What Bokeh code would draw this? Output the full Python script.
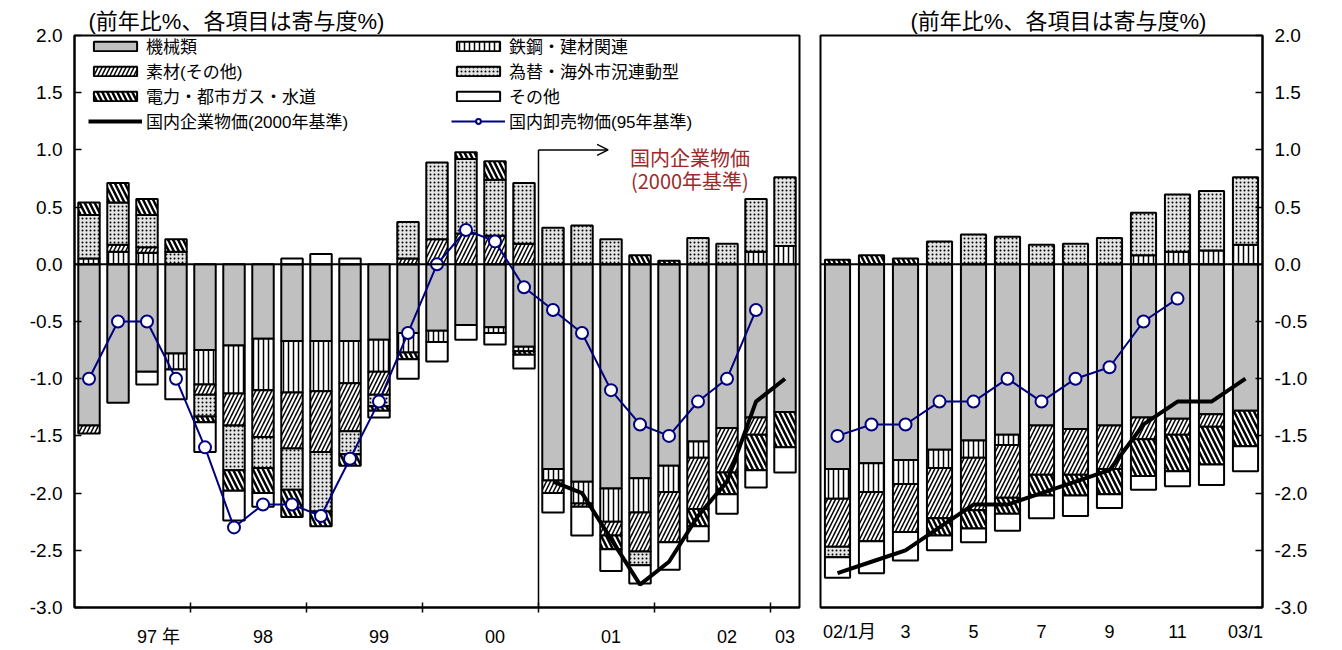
import math
from bokeh.plotting import figure
from bokeh.layouts import row
from bokeh.models import (ColumnDataSource, FixedTicker, Legend, LegendItem, Label,
                          Span, Arrow, OpenHead, PrintfTickFormatter)
from bokeh.embed import file_html
from bokeh.resources import INLINE

NAN = float("nan")

categories = ["機械類", "鉄鋼・建材関連", "素材(その他)", "為替・海外市況連動型",
              "電力・都市ガス・水道", "その他"]
line_cgpi = "国内企業物価(2000年基準)"
line_wpi = "国内卸売物価(95年基準)"

# ---- quarterly (97/1Q .. 03/1Q) ----
q_labels = ["97 年", "98", "99", "00", "01", "02", "03"]
q_label_idx = [2, 6, 10, 14, 18, 22, 24]
q_machinery = [-1.41, -1.21, -0.94, -0.78, -0.75, -0.71, -0.65, -0.67, -0.67, -0.67, -0.66, -0.60, -0.58,
               -0.53, -0.55, -0.72, -1.79, -1.90, -1.96, -1.87, -1.76, -1.55, -1.43, -1.34, -1.29]
q_steel = [0.05, 0.11, 0.10, -0.14, -0.30, -0.42, -0.45, -0.45, -0.44, -0.37, -0.28, -0.17, -0.10,
           0.0, -0.05, -0.04, -0.10, -0.19, -0.29, -0.30, -0.23, -0.14, 0.0, 0.11, 0.16]
q_material = [-0.07, 0.06, 0.05, 0.0, -0.09, -0.28, -0.41, -0.49, -0.53, -0.42, -0.20, 0.05, 0.22,
              0.27, 0.25, 0.18, -0.11, -0.03, -0.12, -0.34, -0.44, -0.45, -0.39, -0.15, 0.0]
q_fx = [0.38, 0.37, 0.28, 0.11, -0.19, -0.39, -0.27, -0.36, -0.52, -0.20, -0.10, 0.32, 0.67,
        0.65, 0.49, 0.53, 0.32, 0.34, 0.22, -0.12, 0.0, 0.23, 0.18, 0.46, 0.60]
q_utility = [0.11, 0.17, 0.14, 0.11, -0.05, -0.18, -0.22, -0.24, -0.13, -0.10, -0.04, -0.06, 0.0,
             0.06, 0.16, -0.03, 0.0, 0.0, -0.12, 0.08, 0.03, -0.15, -0.19, -0.31, -0.31]
q_other = [0.0, 0.0, -0.11, -0.26, -0.26, -0.26, -0.12, 0.05, 0.09, 0.05, -0.06, -0.17, -0.17,
           -0.13, -0.10, -0.12, -0.17, -0.25, -0.19, -0.16, -0.24, -0.13, -0.17, -0.15, -0.22]
q_wpi = [-1.0, -0.5, -0.5, -1.0, -1.6, -2.3, -2.1, -2.1, -2.2, -1.7, -1.2, -0.6, 0.0, 0.3, 0.2, -0.2,
         -0.4, -0.6, -1.1, -1.4, -1.5, -1.2, -1.0, -0.4, NAN]
q_cgpi = [NAN] * 16 + [-1.9, -2.0, -2.4, -2.8, -2.6, -2.2, -1.9, -1.2, -1.0]

# ---- monthly (02/1 .. 03/1) ----
m_labels = ["02/1月", "3", "5", "7", "9", "11", "03/1"]
m_label_idx = [0, 2, 4, 6, 8, 10, 12]
m_machinery = [-1.79, -1.74, -1.71, -1.62, -1.54, -1.49, -1.41, -1.44, -1.41, -1.34, -1.35, -1.31, -1.28]
m_steel = [-0.26, -0.25, -0.21, -0.16, -0.15, -0.09, 0.0, 0.0, 0.0, 0.08, 0.11, 0.12, 0.17]
m_material = [-0.42, -0.43, -0.42, -0.44, -0.46, -0.46, -0.43, -0.40, -0.38, -0.19, -0.14, -0.11, 0.0]
m_fx = [-0.09, 0.0, 0.0, 0.20, 0.26, 0.24, 0.17, 0.18, 0.23, 0.37, 0.50, 0.52, 0.59]
m_utility = [0.04, 0.08, 0.05, -0.15, -0.16, -0.14, -0.18, -0.18, -0.22, -0.32, -0.32, -0.33, -0.31]
m_other = [-0.18, -0.28, -0.25, -0.13, -0.12, -0.15, -0.20, -0.18, -0.12, -0.12, -0.13, -0.18, -0.22]
m_wpi = [-1.5, -1.4, -1.4, -1.2, -1.2, -1.0, -1.2, -1.0, -0.9, -0.5, -0.3, NAN, NAN]
m_cgpi = [-2.7, -2.6, -2.5, -2.3, -2.1, -2.1, -2.0, -1.9, -1.8, -1.4, -1.2, -1.2, -1.0]

y_ticks = [-3.0, -2.5, -2.0, -1.5, -1.0, -0.5, 0.0, 0.5, 1.0, 1.5, 2.0]
title_text = "(前年比%、各項目は寄与度%)"

STYLE = {
    "機械類": dict(fill_color="#C0C0C0"),
    "鉄鋼・建材関連": dict(fill_color="white", hatch_pattern="|", hatch_color="black",
                      hatch_scale=5, hatch_weight=1.5),
    "素材(その他)": dict(fill_color="white", hatch_pattern="/", hatch_color="black",
                      hatch_scale=8, hatch_weight=1.5),
    "為替・海外市況連動型": dict(fill_color="#E4E4E4", hatch_pattern=".", hatch_color="black",
                         hatch_scale=4, hatch_weight=2),
    "電力・都市ガス・水道": dict(fill_color="white", hatch_pattern="\\", hatch_color="black",
                         hatch_scale=10, hatch_weight=2.5),
    "その他": dict(fill_color="white"),
}

NUM_FONT = "Liberation Sans, Noto Sans CJK JP"
JP_FONT = "Noto Sans CJK JP"
FRAME_H = 572
NAVY = "#000080"


def draw_bars(p, series, bar_width):
    n = len(series[0])
    xs = list(range(n))
    pos = [0.0] * n
    neg = [0.0] * n
    rends = {}
    for cat, vals in zip(categories, series):
        x_, b_, t_ = [], [], []
        for i, v in enumerate(vals):
            if v == 0:
                continue
            if v > 0:
                b0 = pos[i]; pos[i] += v; t0 = pos[i]
            else:
                b0 = neg[i]; neg[i] += v; t0 = neg[i]
            x_.append(xs[i]); b_.append(b0); t_.append(t0)
        src = ColumnDataSource(dict(x=x_, bottom=b_, top=t_))
        rends[cat] = p.vbar(x="x", bottom="bottom", top="top", width=bar_width, source=src,
                            line_color="black", line_width=2, **STYLE[cat])
    return rends


def draw_lines(p, wpi, cgpi):
    xs = list(range(len(wpi)))
    rc = p.line(xs, cgpi, line_color="black", line_width=4)
    rl = p.line(xs, wpi, line_color=NAVY, line_width=2)
    rs = p.scatter(xs, wpi, size=12, marker="circle", fill_color="white",
                   line_color=NAVY, line_width=2)
    return rc, rl, rs


def base_fig(n, frame_w, left, right, yloc, title_offset):
    p = figure(frame_width=frame_w, frame_height=FRAME_H, x_range=(-0.5, n - 0.5),
               y_range=(-3.0, 2.0), output_backend="svg", toolbar_location=None,
               min_border_left=left, min_border_right=right, min_border_top=35,
               min_border_bottom=40, y_axis_location=yloc)
    p.title.text = title_text
    p.title.align = "left"
    p.title.offset = title_offset
    p.title.standoff = 4
    p.title.text_font = NUM_FONT
    p.title.text_font_size = "22px"
    p.title.text_font_style = "normal"
    p.title.text_color = "black"
    p.xgrid.visible = False
    p.ygrid.visible = False
    p.outline_line_color = "black"
    p.outline_line_width = 2
    p.background_fill_color = "white"
    p.border_fill_color = "white"
    ax = p.yaxis[0]
    ax.ticker = FixedTicker(ticks=y_ticks)
    ax.formatter = PrintfTickFormatter(format="%.1f")
    ax.major_tick_in = 7
    ax.major_tick_out = 0
    ax.minor_tick_line_color = None
    ax.major_tick_line_color = "black"
    ax.major_tick_line_width = 1.5
    ax.axis_line_color = "black"
    ax.axis_line_width = 2
    ax.major_label_text_font = NUM_FONT
    ax.major_label_text_font_size = "19px"
    ax.major_label_text_color = "black"
    ax.major_label_standoff = 12
    xa = p.xaxis[0]
    xa.axis_line_color = "black"
    xa.axis_line_width = 2
    xa.major_tick_line_color = None
    xa.major_tick_out = 0
    xa.major_tick_in = 0
    xa.major_label_text_font = NUM_FONT
    xa.major_label_text_font_size = "18px"
    xa.major_label_text_color = "black"
    xa.major_label_standoff = 14
    p.add_layout(Span(location=0, dimension="width", line_color="black", line_width=2))
    return p


# ---------------- left (quarterly) ----------------
nq = len(q_machinery)
p1 = base_fig(nq, 725, 74, 11, "left", 14)
q_series = [q_machinery, q_steel, q_material, q_fx, q_utility, q_other]
r1 = draw_bars(p1, q_series, 0.74)
# divider and arrow marking the start of the new index
p1.segment(x0=[15.5], y0=[-3.0], x1=[15.5], y1=[1.0], line_color="black", line_width=1.5)
p1.add_layout(Arrow(end=OpenHead(size=11, line_width=1.5, line_color="black"),
                    x_start=15.5, y_start=1.0, x_end=17.9, y_end=1.0,
                    line_color="black", line_width=1.5))
rc1, rl1, rs1 = draw_lines(p1, q_wpi, q_cgpi)

q_pos = [float(i) + (0.4 if "年" in lab else 0.0) for i, lab in zip(q_label_idx, q_labels)]
p1.xaxis[0].ticker = FixedTicker(ticks=q_pos,
                                 minor_ticks=[k * 4 + 3.5 for k in range(6)])
p1.xaxis[0].major_label_overrides = {t: lab for t, lab in zip(q_pos, q_labels)}
p1.xaxis[0].minor_tick_line_color = "black"
p1.xaxis[0].minor_tick_line_width = 1.5
p1.xaxis[0].minor_tick_in = 5
p1.xaxis[0].minor_tick_out = 5

for txt, yv in (("国内企業物価", 0.93), ("(2000年基準)", 0.73)):
    p1.add_layout(Label(x=20.72, y=yv, text=txt, text_align="center", text_baseline="middle",
                        text_font=JP_FONT, text_font_size="20px", text_color="#9C2A2A"))

leg_common = dict(padding=0, margin=0, spacing=0, glyph_width=54, glyph_height=12,
                  label_height=24, label_standoff=4, label_text_font=NUM_FONT,
                  label_text_font_size="17px", label_text_color="black",
                  background_fill_alpha=0, border_line_alpha=0)
leg1 = Legend(items=[
    LegendItem(label="機械類", renderers=[r1["機械類"]]),
    LegendItem(label="素材(その他)", renderers=[r1["素材(その他)"]]),
    LegendItem(label="電力・都市ガス・水道", renderers=[r1["電力・都市ガス・水道"]]),
    LegendItem(label=line_cgpi, renderers=[rc1]),
], location=(14, 474), **leg_common)
leg2 = Legend(items=[
    LegendItem(label="鉄鋼・建材関連", renderers=[r1["鉄鋼・建材関連"]]),
    LegendItem(label="為替・海外市況連動型", renderers=[r1["為替・海外市況連動型"]]),
    LegendItem(label="その他", renderers=[r1["その他"]]),
    LegendItem(label=line_wpi, renderers=[rl1, rs1]),
], location=(377, 474), **leg_common)
p1.add_layout(leg1)
p1.add_layout(leg2)

# ---------------- right (monthly) ----------------
nm = len(m_machinery)
p2 = base_fig(nm, 442, 10, 70, "right", 90)
m_series = [m_machinery, m_steel, m_material, m_fx, m_utility, m_other]
draw_bars(p2, m_series, 0.74)
draw_lines(p2, m_wpi, m_cgpi)
m_pos = [float(i) + (0.35 if "月" in lab else 0.0) for i, lab in zip(m_label_idx, m_labels)]
p2.xaxis[0].ticker = FixedTicker(ticks=m_pos)
p2.xaxis[0].major_label_overrides = {t: lab for t, lab in zip(m_pos, m_labels)}
p2.xaxis[0].minor_tick_line_color = None

layout = row(p1, p2)
open("out.html", "w").write(file_html(layout, INLINE))
